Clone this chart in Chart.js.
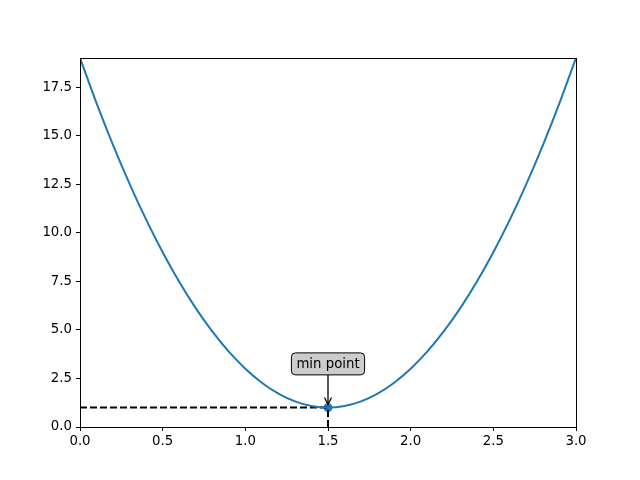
<!DOCTYPE html>
<html>
<head>
<meta charset="utf-8">
<script src="https://cdn.jsdelivr.net/npm/chart.js@4"></script>
<style>
  html, body { margin: 0; padding: 0; background: #fff; }
  #wrap { width: 640px; height: 480px; }
</style>
</head>
<body>
<div id="wrap"><canvas id="c" width="640" height="480"></canvas></div>
<script>
// curve samples
const xVals = [0.0, 0.1, 0.2, 0.3, 0.4, 0.5, 0.6, 0.7, 0.8, 0.9, 1.0, 1.1, 1.2, 1.3, 1.4, 1.5,
               1.6, 1.7, 1.8, 1.9, 2.0, 2.1, 2.2, 2.3, 2.4, 2.5, 2.6, 2.7, 2.8, 2.9, 3.0];
const yVals = [19.0, 16.68, 14.52, 12.52, 10.68, 9.0, 7.48, 6.12, 4.92, 3.88, 3.0, 2.28, 1.72, 1.32, 1.08, 1.0,
               1.08, 1.32, 1.72, 2.28, 3.0, 3.88, 4.92, 6.12, 7.48, 9.0, 10.68, 12.52, 14.52, 16.68, 19.0];

const minPoint = [1.5, 1.0];
const annotText = 'min point';
const annotAt = [1.5, 3.25];

const xTicks = [0.0, 0.5, 1.0, 1.5, 2.0, 2.5, 3.0];
const yTicks = [0.0, 2.5, 5.0, 7.5, 10.0, 12.5, 15.0, 17.5];

const FONT = { family: 'DejaVu Sans', size: 13.3 };

const curve = xVals.map((x, i) => ({ x, y: yVals[i] }));

// full axes frame like matplotlib
const framePlugin = {
  id: 'frame',
  afterDraw(chart) {
    const { ctx, chartArea: a } = chart;
    ctx.save();
    ctx.strokeStyle = '#000';
    ctx.lineWidth = 1;
    ctx.strokeRect(Math.round(a.left) + 0.5, Math.round(a.top) + 0.5,
                   Math.round(a.right - a.left), Math.round(a.bottom - a.top));
    ctx.restore();
  }
};

// annotation box + arrow
const annotPlugin = {
  id: 'annot',
  afterDatasetsDraw(chart) {
    const { ctx, scales: { x, y } } = chart;
    const tx = x.getPixelForValue(annotAt[0]);
    const ty = y.getPixelForValue(annotAt[1]);
    const px = x.getPixelForValue(minPoint[0]);
    const py = y.getPixelForValue(minPoint[1]);

    ctx.save();
    ctx.font = `${FONT.size}px ${FONT.family}`;
    const w = ctx.measureText(annotText).width;
    const padX = 5, h = 22;
    const bx = tx - w / 2 - padX, by = ty - h / 2, bw = w + padX * 2;

    // arrow
    ctx.strokeStyle = '#000';
    ctx.lineWidth = 1.3;
    ctx.beginPath();
    ctx.moveTo(tx, by + h);
    ctx.lineTo(px, py - 3);
    ctx.stroke();
    ctx.beginPath();
    ctx.moveTo(px - 3.5, py - 10);
    ctx.lineTo(px, py - 3);
    ctx.lineTo(px + 3.5, py - 10);
    ctx.stroke();

    // box
    ctx.beginPath();
    ctx.roundRect(bx, by, bw, h, 4);
    ctx.fillStyle = '#cccccc';
    ctx.fill();
    ctx.lineWidth = 1;
    ctx.stroke();

    ctx.fillStyle = '#000';
    ctx.textAlign = 'center';
    ctx.textBaseline = 'middle';
    ctx.fillText(annotText, tx, ty + 1);
    ctx.restore();
  }
};

const axisCommon = {
  type: 'linear',
  border: { display: true, color: '#000', width: 1 },
  grid: { display: true, drawOnChartArea: false, drawTicks: true, tickLength: 4, tickColor: '#000', tickWidth: 1 },
};

new Chart(document.getElementById('c'), {
  type: 'scatter',
  data: {
    datasets: [
      {
        data: curve,
        showLine: true,
        borderColor: '#1f77b4',
        borderWidth: 2,
        pointRadius: 0,
        cubicInterpolationMode: 'monotone',
      },
      {
        data: [{ x: xVals[0], y: minPoint[1] }, { x: minPoint[0], y: minPoint[1] }],
        showLine: true,
        borderColor: '#000',
        borderWidth: 2,
        borderDash: [7, 3],
        pointRadius: 0,
      },
      {
        data: [{ x: minPoint[0], y: yTicks[0] }, { x: minPoint[0], y: minPoint[1] }],
        showLine: true,
        borderColor: '#000',
        borderWidth: 2,
        borderDash: [7, 3],
        pointRadius: 0,
      },
      {
        data: [{ x: minPoint[0], y: minPoint[1] }],
        backgroundColor: '#1f77b4',
        borderColor: '#1f77b4',
        pointRadius: 4,
      },
    ],
  },
  options: {
    responsive: false,
    animation: false,
    events: [],
    layout: { padding: { left: 0, top: 58, right: 64, bottom: 0 } },
    plugins: { legend: { display: false }, tooltip: { enabled: false } },
    scales: {
      x: {
        ...axisCommon,
        min: 0, max: 3,
        afterFit(s) { s.height = 53; },
        afterBuildTicks(s) { s.ticks = xTicks.map(v => ({ value: v })); },
        ticks: { color: '#000', font: FONT, padding: 3, maxRotation: 0, callback: v => v.toFixed(1) },
      },
      y: {
        ...axisCommon,
        min: 0, max: 19,
        afterFit(s) { s.width = 80; },
        afterBuildTicks(s) { s.ticks = yTicks.map(v => ({ value: v })); },
        ticks: { color: '#000', font: FONT, padding: 4, callback: v => v.toFixed(1) },
      },
    },
  },
  plugins: [annotPlugin, framePlugin],
});
</script>
</body>
</html>
